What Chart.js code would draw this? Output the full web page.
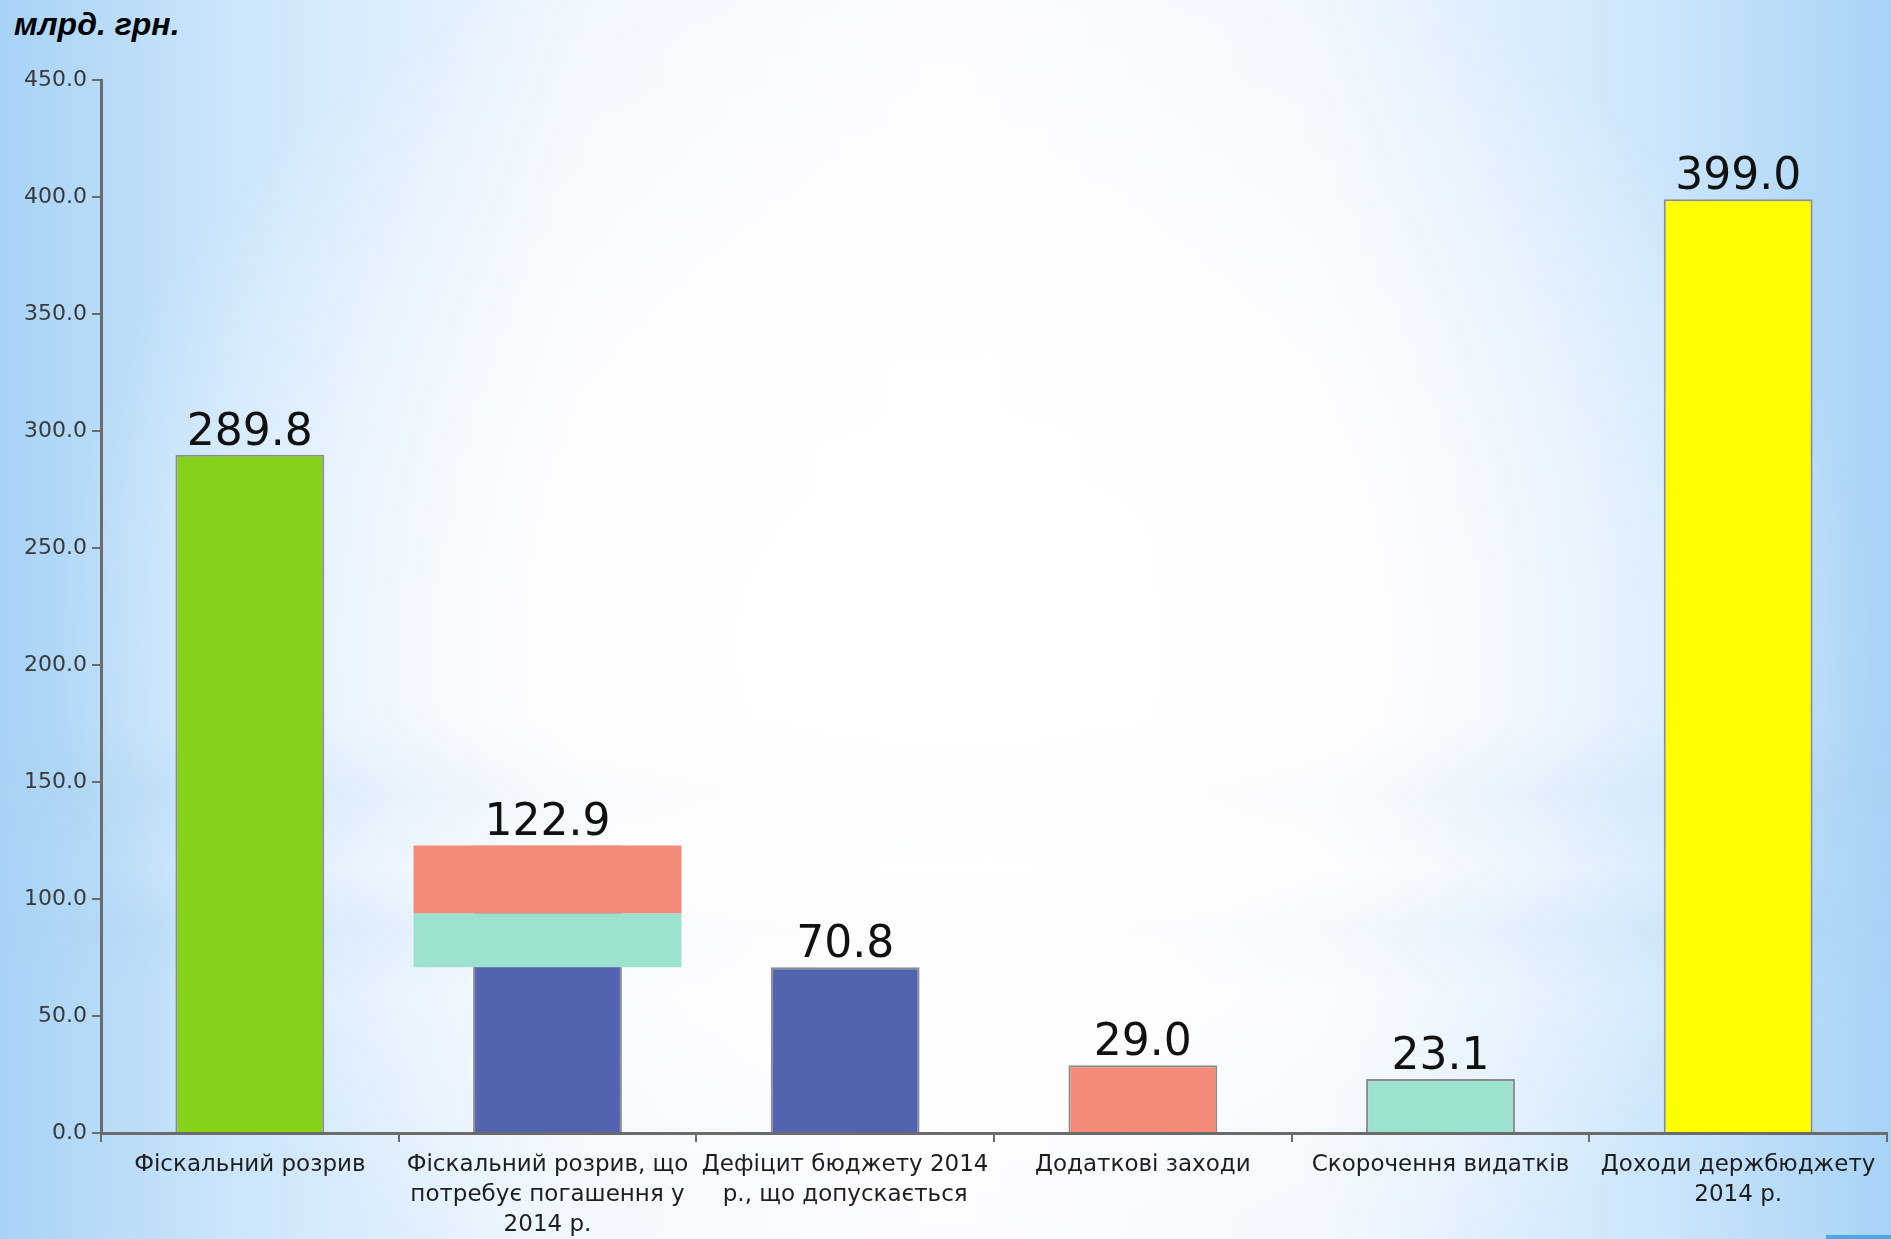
<!DOCTYPE html>
<html lang="uk">
<head>
<meta charset="utf-8">
<title>Фіскальний розрив</title>
<script src="https://cdn.jsdelivr.net/npm/chart.js@4.4.1/dist/chart.umd.min.js"></script>
<style>
  html, body { margin: 0; padding: 0; }
  body {
    width: 1891px; height: 1239px; overflow: hidden; position: relative;
    background:
      radial-gradient(ellipse 48% 62% at 51% 52%, rgba(255,255,255,1) 0%, rgba(255,255,255,0.85) 45%, rgba(255,255,255,0) 100%),
      linear-gradient(180deg, rgba(255,255,255,0) 58%, rgba(170,210,242,0.4) 64%, rgba(255,255,255,0) 70%, rgba(170,210,242,0.3) 75%, rgba(255,255,255,0) 80%),
      linear-gradient(90deg, #a7d3f7 0%, #cbe5fb 12%, #eef6fe 30%, #f8fbff 50%, #eef6fe 70%, #cbe5fb 88%, #a7d3f7 100%);
  }
  #unit {
    position: absolute; left: 14px; top: 6px;
    font: italic bold 32px "Liberation Sans", Arial, sans-serif; color: #000;
  }
  #wrap { position: absolute; left: 0; top: 0; width: 1891px; height: 1239px; }
  #corner { position: absolute; left: 1826px; top: 1235px; width: 65px; height: 4px; background: #4ba6ea; }
</style>
</head>
<body>
<div id="unit">млрд. грн.</div>
<div id="wrap"><canvas id="chart"></canvas></div>
<div id="corner"></div>
<script>
const categories = [
  'Фіскальний розрив',
  ['Фіскальний розрив, що', 'потребує погашення у', '2014 р.'],
  ['Дефіцит бюджету 2014', 'р., що допускається'],
  'Додаткові заходи',
  'Скорочення видатків',
  ['Доходи держбюджету', '2014 р.']
];
const values = [289.8, 122.9, 70.8, 29.0, 23.1, 399.0];
const barColors = ['#84d21a', '#5463af', '#5463af', '#f48a78', '#9de1cf', '#ffff00'];
const yTicks = [0, 50, 100, 150, 200, 250, 300, 350, 400, 450];

// the gap bar is covered by the deficit + cuts + measures pieces
const gapIndex = 1;
const deficit = values[2];
const cuts = values[4];
const measures = values[3];
const cutsBand = categories.map((c, i) => i === gapIndex ? [deficit, deficit + cuts] : null);
const measuresBand = categories.map((c, i) => i === gapIndex ? [deficit + cuts, deficit + cuts + measures] : null);

const axisColor = '#6b6b6b';

const valueLabels = {
  id: 'valueLabels',
  afterDatasetsDraw(chart) {
    const ctx = chart.ctx;
    const meta = chart.getDatasetMeta(2);
    ctx.save();
    ctx.font = '44px "DejaVu Sans", sans-serif';
    ctx.fillStyle = '#111';
    ctx.textAlign = 'center';
    ctx.textBaseline = 'alphabetic';
    meta.data.forEach((bar, i) => {
      ctx.fillText(values[i].toFixed(1), bar.x, bar.y - 10);
    });
    ctx.restore();
  }
};

new Chart(document.getElementById('chart'), {
  type: 'bar',
  data: {
    labels: categories,
    datasets: [
      {
        data: measuresBand,
        backgroundColor: '#f48a78',
        borderWidth: 0,
        grouped: false,
        barPercentage: 0.9,
        categoryPercentage: 1,
        order: 0
      },
      {
        data: cutsBand,
        backgroundColor: '#9de1cf',
        borderWidth: 0,
        grouped: false,
        barPercentage: 0.9,
        categoryPercentage: 1,
        order: 1
      },
      {
        data: values,
        backgroundColor: barColors,
        borderColor: '#8c8c8c',
        borderWidth: 2,
        grouped: false,
        barPercentage: 0.5,
        categoryPercentage: 1,
        order: 2
      }
    ]
  },
  options: {
    responsive: true,
    maintainAspectRatio: false,
    animation: false,
    layout: { padding: { left: 0, right: 4, top: 80, bottom: 0 } },
    plugins: {
      legend: { display: false },
      tooltip: { enabled: false },
      title: { display: false }
    },
    scales: {
      x: {
        offset: true,
        grid: { offset: true, drawOnChartArea: false, drawTicks: true, tickLength: 9, color: axisColor, lineWidth: 2 },
        border: { color: axisColor, width: 3 },
        ticks: {
          font: { family: '"DejaVu Sans", sans-serif', size: 23, lineHeight: 1.3 },
          color: '#1e1e1e', padding: 8, maxRotation: 0, autoSkip: false
        },
        afterFit: s => { s.height = 106; }
      },
      y: {
        min: 0,
        max: 450,
        afterBuildTicks: s => { s.ticks = yTicks.map(v => ({ value: v })); },
        ticks: {
          font: { family: '"DejaVu Sans", sans-serif', size: 22 },
          color: '#3a3a3a', padding: 5, callback: v => Number(v).toFixed(1)
        },
        grid: { drawOnChartArea: false, drawTicks: true, tickLength: 9, color: axisColor, lineWidth: 2 },
        border: { color: axisColor, width: 3 },
        afterFit: s => { s.width = 101; }
      }
    }
  },
  plugins: [valueLabels]
});
</script>
</body>
</html>
